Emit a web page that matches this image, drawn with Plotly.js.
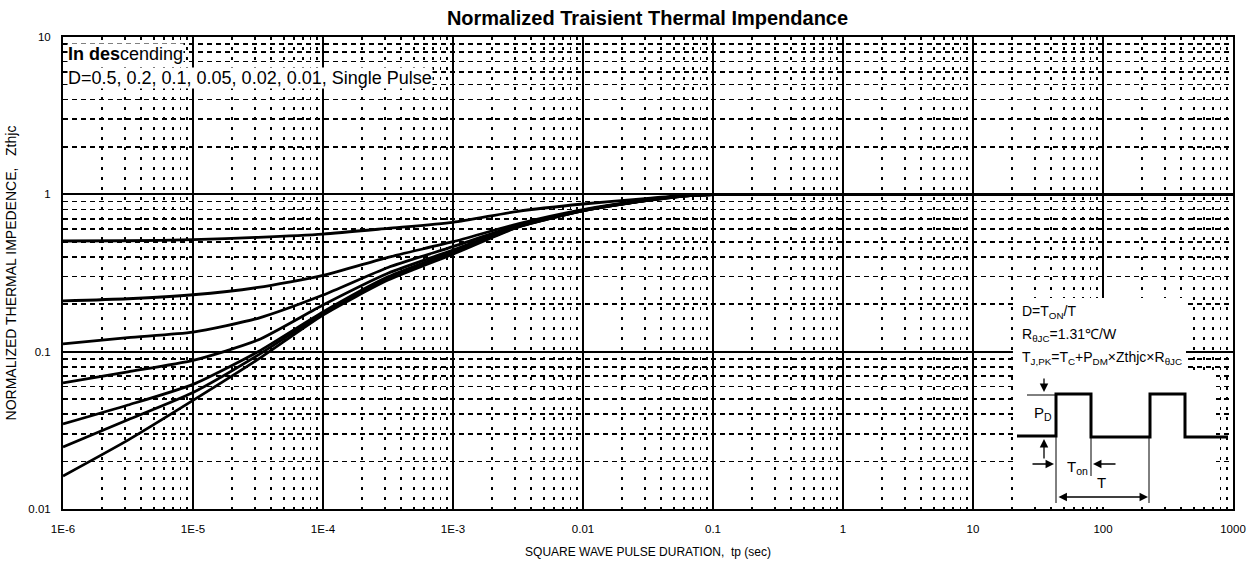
<!DOCTYPE html>
<html>
<head>
<meta charset="utf-8">
<script src="https://cdn.plot.ly/plotly-3.0.1.min.js"></script>
<style>html,body{margin:0;padding:0;background:#fff;}#chart{width:1255px;height:567px;}</style>
</head>
<body>
<div id="chart"></div>
<script>
// ---- data ----
const X_TP = [1e-6, 3.16e-6, 1e-5, 3.16e-5, 1e-4, 3.16e-4, 1e-3, 3.16e-3, 1e-2, 3.16e-2, 0.06, 0.1, 0.3, 1, 10, 100, 1000];
const Z_D05  = [0.505, 0.507, 0.515, 0.533, 0.559, 0.608, 0.664, 0.780, 0.868, 0.943, 0.985, 0.997, 1, 1, 1, 1, 1];
const Z_D02  = [0.210, 0.217, 0.230, 0.256, 0.305, 0.398, 0.500, 0.650, 0.800, 0.925, 0.980, 0.997, 1, 1, 1, 1, 1];
const Z_D01  = [0.112, 0.123, 0.133, 0.163, 0.229, 0.343, 0.465, 0.635, 0.795, 0.920, 0.978, 0.997, 1, 1, 1, 1, 1];
const Z_D005 = [0.0634, 0.0745, 0.088, 0.1185, 0.198, 0.315, 0.442, 0.628, 0.790, 0.918, 0.977, 0.997, 1, 1, 1, 1, 1];
const Z_D002 = [0.0347, 0.0458, 0.062, 0.0999, 0.179, 0.299, 0.432, 0.624, 0.788, 0.916, 0.977, 0.997, 1, 1, 1, 1, 1];
const Z_D001 = [0.0248, 0.0369, 0.055, 0.095, 0.175, 0.292, 0.425, 0.621, 0.786, 0.915, 0.976, 0.997, 1, 1, 1, 1, 1];
const Z_SP   = [0.0162, 0.0274, 0.049, 0.0893, 0.171, 0.285, 0.417, 0.618, 0.785, 0.914, 0.976, 0.997, 1, 1, 1, 1, 1];
const SERIES_NAMES = ['D=0.5', 'D=0.2', 'D=0.1', 'D=0.05', 'D=0.02', 'D=0.01', 'Single Pulse'];
const X_TICKVALS = [1e-6, 1e-5, 1e-4, 1e-3, 0.01, 0.1, 1, 10, 100, 1000];
const X_TICKTEXT = ['1E-6', '1E-5', '1E-4', '1E-3', '0.01', '0.1', '1', '10', '100', '1000'];
const Y_TICKVALS = [0.01, 0.1, 1, 10];
const Y_TICKTEXT = ['0.01', '0.1', '1', '10'];

const FONT = 'Liberation Sans, Arial, Helvetica, sans-serif';
const SERIES = [Z_D05, Z_D02, Z_D01, Z_D005, Z_D002, Z_D001, Z_SP];

const traces = SERIES.map((ys, i) => ({
  type: 'scatter', mode: 'lines', name: SERIES_NAMES[i],
  x: X_TP, y: ys,
  line: {color: '#000', width: 2.8, shape: 'spline', smoothing: 0.6},
  hoverinfo: 'skip'
}));

// plot area in pixels (for the schematic inset drawn in paper coordinates)
const L = 63, R = 22, T = 37, B = 58, W = 1255, H = 567;
const PW = W - L - R, PH = H - T - B;
const px = v => (v - L) / PW;
const py = v => (H - B - v) / PH;

const thin = {color: '#000', width: 1};
const thick = {color: '#000', width: 3};
function seg(x0, y0, x1, y1, line) {
  return {type: 'line', xref: 'paper', yref: 'paper', x0: px(x0), y0: py(y0), x1: px(x1), y1: py(y1), line: line, layer: 'above'};
}
function rect(x0, y0, x1, y1) {
  return {type: 'rect', xref: 'paper', yref: 'paper', x0: px(x0), y0: py(y0), x1: px(x1), y1: py(y1),
          fillcolor: '#fff', line: {width: 0}, layer: 'above'};
}
const pulsePts = [[1017,436],[1056,436],[1056,394],[1091,394],[1091,437],[1150,437],[1150,394],[1185,394],[1185,437],[1228,437]];
const pulsePath = pulsePts.map((p, i) => (i ? 'L' : 'M') + px(p[0]).toFixed(5) + ',' + py(p[1]).toFixed(5)).join(' ');

const shapes = [
  rect(1013, 298, 1186, 374),
  rect(1013, 373, 1216, 507),
  seg(1027, 395, 1056, 395, thin),
  seg(1056, 394, 1056, 503, thin),
  seg(1091, 437, 1091, 476, thin),
  seg(1149, 437, 1149, 503, thin),
  {type: 'path', xref: 'paper', yref: 'paper', path: pulsePath, line: thick, layer: 'above'}
];

function txt(x, y, text, size, anchor, bg) {
  return {xref: 'paper', yref: 'paper', x: px(x), y: py(y), text: text, showarrow: false,
          xanchor: anchor || 'left', yanchor: 'middle', align: 'left',
          font: {family: FONT, size: size, color: '#000'}, bgcolor: bg || 'rgba(0,0,0,0)', borderpad: 0};
}
function arrow(hx, hy, tx, ty, side) {
  return {xref: 'paper', yref: 'paper', x: px(hx), y: py(hy), ax: tx - hx, ay: ty - hy,
          axref: 'pixel', ayref: 'pixel', text: '', showarrow: true, arrowhead: 2, arrowsize: 1.3,
          arrowwidth: 1.3, arrowcolor: '#000', arrowside: side || 'end', standoff: 0, startstandoff: 0};
}

const annotations = [
  txt(67, 54, '<b>In des</b>cending', 18, 'left', '#fff'),
  txt(67, 78, 'D=0.5, 0.2, 0.1, 0.05, 0.02, 0.01, Single Pulse', 18, 'left', '#fff'),
  txt(1021, 312, 'D=T<sub>ON</sub>/T', 14),
  txt(1021, 335, 'R<sub>θJC</sub>=1.31℃/W', 14),
  txt(1021, 358, 'T<sub>J,PK</sub>=T<sub>C</sub>+P<sub>DM</sub>×Zthjc×R<sub>θJC</sub>', 14),
  txt(1043, 413, 'P<sub>D</sub>', 15, 'center'),
  txt(1077, 467, 'T<sub>on</sub>', 15, 'center'),
  txt(1101, 482, 'T', 15, 'center'),
  arrow(1044, 392, 1044, 377),
  arrow(1044, 439, 1044, 460),
  arrow(1054, 464, 1031, 464),
  arrow(1093, 464, 1117, 464),
  arrow(1148, 497, 1057, 497, 'end+start')
];

const axisCommon = {
  type: 'log', showline: true, mirror: true, linecolor: '#000', linewidth: 2,
  showgrid: true, gridcolor: '#000', gridwidth: 2, zeroline: false,
  ticks: '', tickmode: 'array', tickfont: {family: FONT, size: 11.5, color: '#000'},
  ticklabelstandoff: 8
};

const layout = {
  width: W, height: H,
  margin: {l: L, r: R, t: T, b: B, pad: 0},
  paper_bgcolor: '#fff', plot_bgcolor: '#fff',
  showlegend: false,
  font: {family: FONT, color: '#000'},
  title: {text: '<b>Normalized Traisient Thermal Impendance</b>', font: {family: FONT, size: 20, color: '#000'},
          x: px(647.5), xref: 'paper', xanchor: 'center', y: 1 - 18 / H, yref: 'container', yanchor: 'middle'},
  xaxis: Object.assign({}, axisCommon, {
    range: [-6, 3], tickvals: X_TICKVALS, ticktext: X_TICKTEXT,
    title: {text: 'SQUARE WAVE PULSE DURATION,&nbsp;&nbsp;tp (sec)', font: {family: FONT, size: 12, color: '#000'}, standoff: 14},
    minor: {tickmode: 'linear', dtick: 'D1', showgrid: true, gridcolor: '#000', gridwidth: 1.6, griddash: '3px,7px', ticks: ''}
  }),
  yaxis: Object.assign({}, axisCommon, {
    range: [-2, 1], tickvals: Y_TICKVALS, ticktext: Y_TICKTEXT,
    title: {text: 'NORMALIZED THERMAL IMPEDENCE,&nbsp;&nbsp;&nbsp;Zthjc', font: {family: FONT, size: 14, color: '#000'}, standoff: 8},
    minor: {tickmode: 'linear', dtick: 'D1', showgrid: true, gridcolor: '#000', gridwidth: 1.6, griddash: '5px,4px', ticks: ''}
  }),
  shapes: shapes,
  annotations: annotations
};

Plotly.newPlot('chart', traces, layout, {staticPlot: true, displayModeBar: false});
</script>
</body>
</html>
